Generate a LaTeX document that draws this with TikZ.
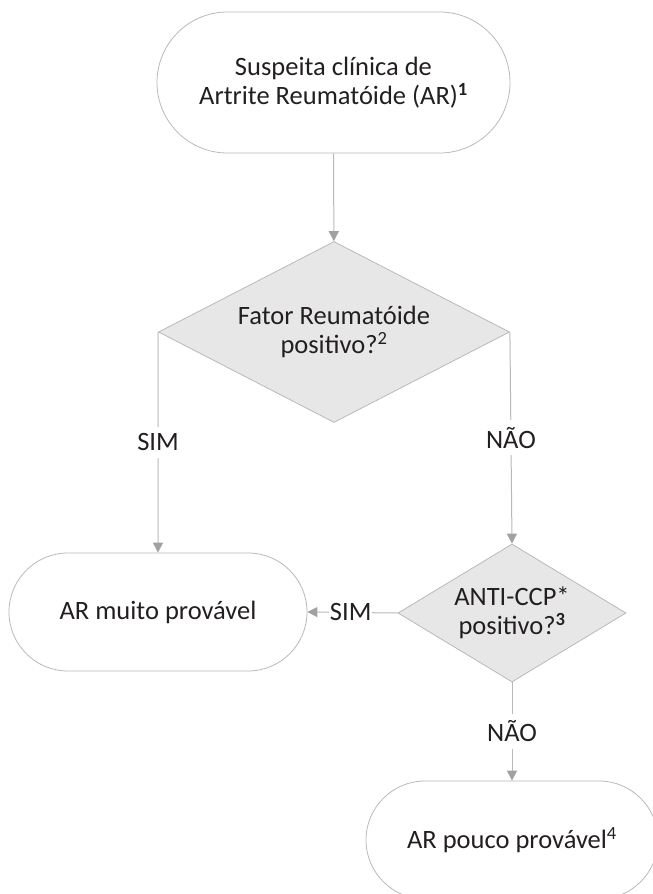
\documentclass[tikz,border=0pt]{standalone}
\usepackage{fontspec}
\setmainfont{Carlito}
\usepackage{tikz}
\usetikzlibrary{arrows.meta}
\usetikzlibrary{shapes.geometric}
\usepackage{xcolor}
\definecolor{linegray}{RGB}{185,185,185}
\definecolor{tipgray}{RGB}{160,161,165}
\definecolor{boxgray}{RGB}{231,231,232}
\definecolor{textgray}{RGB}{35,31,32}

\begin{document}
\begin{tikzpicture}[x=1pt, y=-1pt,
	every node/.style={font=\fontsize{26.5}{29}\selectfont, text=textgray},
	terminal/.style={draw=linegray, line width=0.8pt, rounded corners=59pt, minimum width=298pt, minimum height=118pt, align=center, inner sep=0pt},
	decision/.style={diamond, draw=linegray, fill=boxgray, line width=0.8pt, align=center, inner sep=0pt},
	flow/.style={draw=linegray, line width=1pt, -{Triangle[length=10pt, width=10pt, color=tipgray]}},
	answer/.style={fill=white, inner xsep=1pt, inner ysep=7pt}]
	\useasboundingbox (0,0) rectangle (653,894);
	% start
	\node[terminal, minimum width=353pt, minimum height=141pt, rounded corners=70.5pt] (suspeita) at (333.5,82.5) {Suspeita clínica de\\Artrite Reumatóide (AR)\textsuperscript{\textbf{1}}};
	% first test
	\node[decision, shape aspect=1.94, minimum width=351pt, minimum height=181pt] (fator) at (334,332) {Fator Reumatóide\\positivo?\textsuperscript{2}};
	% second test
	\node[decision, shape aspect=1.65, minimum width=228pt, minimum height=138pt] (anticcp) at (512,613) {ANTI-CCP*\\positivo?\textsuperscript{\textbf{3}}};
	% results
	\node[terminal] (muito) at (158,612) {AR muito provável};
	\node[terminal, minimum width=292pt] (pouco) at (512,840) {AR pouco provável\textsuperscript{4}};

	% arrows
	\draw[flow] (suspeita) -- (fator);
	\draw[flow] (fator.west) -- node[answer] {SIM} (muito.north);
	\draw[flow] (fator.east) -- node[answer] {NÃO} (anticcp.north);
	\draw[flow] (anticcp.west) -- node[answer, pos=0.52] {SIM} (muito.east);
	\draw[flow] (anticcp.south) -- node[answer] {NÃO} (pouco.north);
\end{tikzpicture}
\end{document}
